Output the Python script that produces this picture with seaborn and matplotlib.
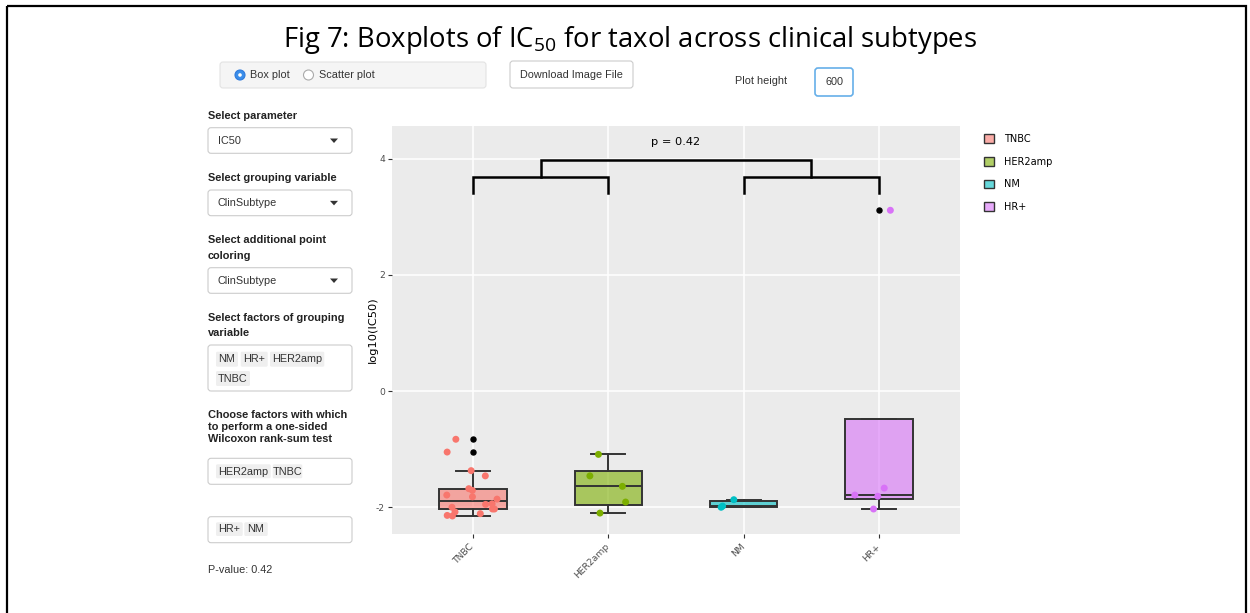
import numpy as np
import pandas as pd
import matplotlib
matplotlib.use("Agg")
import matplotlib.pyplot as plt
from matplotlib.patches import FancyBboxPatch, Rectangle, Circle, Polygon, Patch
import seaborn as sns

# ---------------- data ----------------
categories = ["TNBC", "HER2amp", "NM", "HR+"]
tnbc = [-0.83, -1.05, -1.37, -1.46, -1.68, -1.71, -1.79, -1.82, -1.86,
        -1.94, -1.95, -2.00, -2.03, -2.03, -2.08, -2.11, -2.14, -2.15]
her2amp = [-1.09, -1.46, -1.64, -1.91, -2.10]
nm = [-1.87, -1.98, -2.00]
hr_pos = [3.11, -1.67, -1.79, -1.81, -2.03]
palette = ["#F8766D", "#7CAE00", "#00BFC4", "#D872F7"]
y_ticks = [-2, 0, 2, 4]
p_value = 0.42
group_a = ["TNBC", "HER2amp"]
group_b = ["NM", "HR+"]
y_label = "log10(IC50)"

series = [tnbc, her2amp, nm, hr_pos]
df = pd.DataFrame({
    "subtype": np.repeat(categories, [len(s) for s in series]),
    "value": np.concatenate(series),
})

UI = "Liberation Sans"
plt.rcParams["font.family"] = ["DejaVu Sans"]
plt.rcParams["mathtext.default"] = "regular"

fig = plt.figure(figsize=(12.5, 6.13), dpi=100)
fig.patch.set_facecolor("white")

# ---------------- UI overlay (pixel coordinates) ----------------
ui = fig.add_axes([0, 0, 1, 1])
ui.set_xlim(0, 1250)
ui.set_ylim(613, 0)
ui.axis("off")


def rbox(x0, y0, x1, y1, fc="white", ec="#CCCCCC", r=3, lw=0.8):
    ui.add_patch(FancyBboxPatch((x0 + r, y0 + r), (x1 - x0) - 2 * r, (y1 - y0) - 2 * r,
                                boxstyle=f"round,pad={r}", fc=fc, ec=ec, lw=lw))


def uitext(x, y, s, bold=False, size=7.8, ha="left", color="#333333"):
    ui.text(x, y, s, fontsize=size, family=UI, fontweight="bold" if bold else "normal",
            ha=ha, va="center", color=color)


# frame and title
ui.add_patch(Rectangle((7, 6), 1239, 640, fill=False, ec="black", lw=1.6, clip_on=False))
ui.text(630, 40, "Fig 7: Boxplots of IC$_{50}$ for taxol across clinical subtypes",
        fontsize=19.8, family="Open Sans", ha="center", va="center", color="black")

# top controls
rbox(220, 62, 486, 88, fc="#F5F5F5", ec="#E3E3E3", r=3)
ui.add_patch(Circle((240, 75), 5, fc="#3B8EEA", ec="#2F7ADB", lw=0.8))
ui.add_patch(Circle((240, 75), 1.8, fc="white", ec="none"))
uitext(250, 75, "Box plot")
ui.add_patch(Circle((308.5, 75), 5, fc="white", ec="#AAAAAA", lw=0.8))
uitext(319, 75, "Scatter plot")
rbox(510, 61, 633, 88, fc="white", ec="#CCCCCC", r=3)
uitext(571.5, 75, "Download Image File", ha="center")
uitext(735, 81, "Plot height")
rbox(815, 68, 853, 96, fc="white", ec="#66AFE9", r=3, lw=1.2)
uitext(834, 82, "600", ha="center")

# left panel labels
for (y, s) in [(115.7, "Select parameter"), (178, "Select grouping variable"),
               (240, "Select additional point"), (255.7, "coloring"),
               (318, "Select factors of grouping"), (333, "variable"),
               (415, "Choose factors with which"), (427.3, "to perform a one-sided"),
               (439.3, "Wilcoxon rank-sum test")]:
    uitext(208, y, s, bold=True, size=7.9, color="#222222")

for (y0, y1, s) in [(127.7, 153.3, "IC50"), (190, 215.7, "ClinSubtype"),
                    (267.7, 293.3, "ClinSubtype")]:
    rbox(208, y0, 352, y1, fc="white", ec="#CCCCCC", r=3)
    ym = (y0 + y1) / 2
    uitext(218, ym, s)
    ui.add_patch(Polygon([[330, ym - 2], [338, ym - 2], [334, ym + 2.5]], closed=True,
                         fc="#333333", ec="none"))

for (y0, y1) in [(345, 391), (458.3, 484.3), (516.7, 542.7)]:
    rbox(208, y0, 352, y1, fc="white", ec="#CCCCCC", r=3)

for (s, x0, y0, x1, y1) in [("NM", 216, 351.7, 238, 366.7), ("HR+", 240.7, 351.7, 267.7, 366.7),
                            ("HER2amp", 270, 351.7, 324.3, 366.7), ("TNBC", 216, 371, 250, 386),
                            ("HER2amp", 216, 464.3, 270.7, 478.3), ("TNBC", 272.7, 464.3, 302.3, 478.3),
                            ("HR+", 216, 522.3, 242.7, 536), ("NM", 244.3, 522.3, 267.7, 536)]:
    rbox(x0, y0, x1, y1, fc="#EFEFEF", ec="none", r=1.5, lw=0)
    uitext((x0 + x1) / 2, (y0 + y1) / 2 + 0.3, s, ha="center")

uitext(208, 570, f"P-value: {p_value}")

# ---------------- main plot ----------------
ax = fig.add_axes([392 / 1250, (613 - 534) / 613, (960 - 392) / 1250, (534 - 126) / 613])
ax.set_facecolor("#EBEBEB")
for sp in ax.spines.values():
    sp.set_visible(False)

np.random.seed(11)
sns.stripplot(data=df, x="subtype", y="value", hue="subtype", order=categories,
              hue_order=categories, palette=palette, jitter=0.2, size=5.0,
              linewidth=0, legend=False, ax=ax, zorder=4)


def hazen_stats(vals, label):
    v = np.sort(np.asarray(vals, dtype=float))
    q1, med, q3 = np.percentile(v, [25, 50, 75], method="hazen")
    iqr = q3 - q1
    lo, hi = q1 - 1.5 * iqr, q3 + 1.5 * iqr
    inside = v[(v >= lo) & (v <= hi)]
    return dict(label=label, med=med, q1=q1, q3=q3,
                whislo=min(q1, inside.min()), whishi=max(q3, inside.max()),
                fliers=v[(v < lo) | (v > hi)])


stats = [hazen_stats(s, c) for s, c in zip(series, categories)]
edge = "#333333"
bp = ax.bxp(stats, positions=range(len(categories)), widths=0.5, capwidths=0.25,
            patch_artist=True, manage_ticks=False,
            boxprops=dict(edgecolor=edge, linewidth=1.4),
            medianprops=dict(color=edge, linewidth=1.4),
            whiskerprops=dict(color=edge, linewidth=1.4),
            capprops=dict(color=edge, linewidth=1.4),
            flierprops=dict(marker="o", markerfacecolor="black", markeredgecolor="black",
                            markersize=3.6, linestyle="none"))
for patch, col in zip(bp["boxes"], palette):
    patch.set_facecolor(matplotlib.colors.to_rgba(col, 0.6))

# significance brackets
leg_bottom, arm_y, top_y, p_y = 3.41, 3.68, 3.98, 4.29
mids = []
for grp in (group_a, group_b):
    a, b = categories.index(grp[0]), categories.index(grp[1])
    ax.plot([a, a, b, b], [leg_bottom, arm_y, arm_y, leg_bottom], color="black", lw=1.8,
            solid_joinstyle="miter", zorder=5)
    mids.append((a + b) / 2)
ax.plot([mids[0], mids[0], mids[1], mids[1]], [arm_y, top_y, top_y, arm_y], color="black",
        lw=1.8, solid_joinstyle="miter", zorder=5)
ax.text(sum(mids) / 2, p_y, f"p = {p_value}", ha="center", va="center", fontsize=8.2, color="black")

ax.set_xlim(-0.6, 3.6)
ax.set_ylim(-2.46, 4.56)
ax.set_yticks(y_ticks)
ax.set_yticklabels([str(t) for t in y_ticks])
ax.set_xticks(range(len(categories)))
ax.set_xticklabels(categories, rotation=45, ha="right", va="center", rotation_mode="anchor")
ax.tick_params(axis="both", length=3, width=0.8, color="#333333", labelsize=6.6,
               labelcolor="#4D4D4D", pad=2)
ax.tick_params(axis="x", pad=5)
ax.grid(True, color="white", lw=1.1)
ax.set_axisbelow(True)
ax.set_xlabel("")
ax.set_ylabel("")
ax.text(-0.0335, 0.5, y_label, transform=ax.transAxes, rotation=90, ha="center",
        va="center", fontsize=8.2, color="black")

handles = [Patch(facecolor=matplotlib.colors.to_rgba(c, 0.6), edgecolor=edge, lw=1.0)
           for c in palette]
fig.legend(handles, categories, loc="upper left", bbox_to_anchor=(984 / 1250, 1 - 134 / 613),
           frameon=False, fontsize=7, handlelength=1.0, handleheight=1.0,
           labelspacing=1.3, handletextpad=1.1, borderpad=0, borderaxespad=0)

fig.savefig("out.png", dpi=100)
